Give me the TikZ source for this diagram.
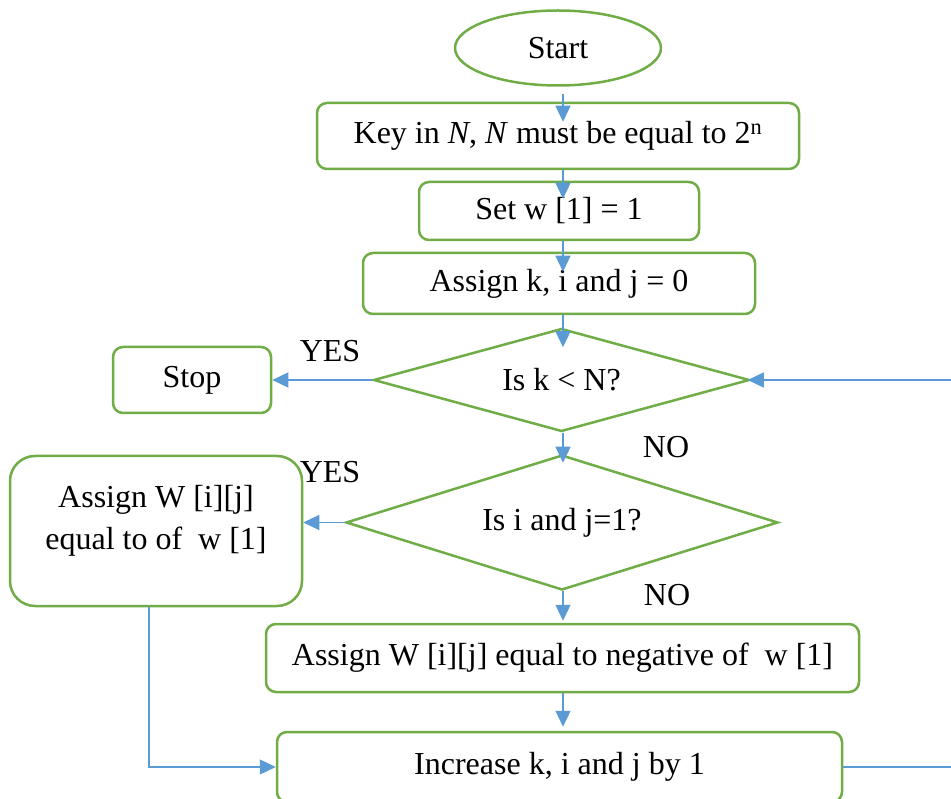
\documentclass[tikz,border=0pt]{standalone}
\usepackage{fontspec}
\setmainfont{Liberation Serif}
\usetikzlibrary{shapes.geometric,arrows.meta,calc}
\definecolor{gr}{HTML}{70AD47}
\definecolor{bl}{HTML}{5B9BD5}
\begin{document}
\begin{tikzpicture}[x=1pt,y=-1pt,
  every node/.style={font=\fontsize{32}{42}\selectfont},
  gbox/.style={draw=gr, line width=2.5pt, rounded corners=10pt, inner sep=0pt, fill=white},
  term/.style={draw=gr, line width=2.5pt, ellipse, inner sep=0pt, fill=white},
  dec/.style={draw=gr, line width=2.5pt, diamond, inner sep=0pt, fill=white},
  conn/.style={draw=bl, line width=1.2pt},
  arr/.style={conn, -{Triangle[length=16pt,width=15pt]}},
  lbl/.style={anchor=base, inner sep=0pt}]
\clip (0,0) rectangle (951,799);
\fill[white] (0,0) rectangle (951,799);
\coordinate (axis) at (563,0);
\coordinate (lx) at (149,0);
\coordinate (edge) at (960,0);

\node[term, minimum width=206pt, minimum height=75pt] (start) at (558,48) {Start};
\node[gbox, minimum width=482pt, minimum height=66pt] (key) at (558,136) {Key in \textit{N}, \textit{N} must be equal to 2\textsuperscript{n}};
\node[gbox, minimum width=280pt, minimum height=58pt] (set) at (559,211) {Set w [1] = 1};
\node[gbox, minimum width=392pt, minimum height=61pt] (asg) at (559,283.5) {Assign k, i and j = 0};
\node[dec, aspect=3.65, minimum width=376pt, minimum height=103pt] (d1) at (561.5,380) {Is k {\textless} N?};
\node[gbox, minimum width=158pt, minimum height=66pt] (stop) at (192,380) {Stop};
\node[dec, aspect=3.2, minimum width=432pt, minimum height=135pt] (d2) at (562,522.5) {Is i and j=1?};
\node[gbox, rounded corners=25pt, minimum width=292pt, minimum height=150pt] (lbox) at (156,531) {};
\node[align=center, inner sep=0pt] (ltext) at (156,521) {Assign W [i][j]\\equal to of\ \ w [1]};
\node[gbox, minimum width=593pt, minimum height=68pt] (neg) at (562.5,658) {Assign W [i][j] equal to negative of\ \ w [1]};
\node[gbox, minimum width=565pt, minimum height=70pt] (inc) at (559.5,767) {Increase k, i and j by 1};

\node[lbl] (yes1) at (330,362) {YES};
\node[lbl] (yes2) at (330,483) {YES};
\node[lbl] (no1) at (666,458) {NO};
\node[lbl] (no2) at (667,605) {NO};

\draw[arr] ($(start.south -| axis)+(0,7)$) -- ($(key.north -| axis)+(0,20)$);
\draw[arr] (key.south -| axis) -- ($(set.north -| axis)+(0,18)$);
\draw[arr] (set.south -| axis) -- ($(asg.north -| axis)+(0,20)$);
\draw[arr] (asg.south -| axis) -- ($(d1.north -| axis)+(0,20)$);
\draw[arr] (d1.south -| axis) -- ($(d2.north -| axis)+(0,9)$);
\draw[arr] (d2.south -| axis) -- ($(neg.north -| axis)+(0,-2)$);
\draw[arr] (neg.south -| axis) -- ($(inc.north -| axis)+(0,-4)$);
\draw[arr] (d1.west) -- (stop.east |- d1.west);
\draw[arr] (d2.west) -- (lbox.east |- d2.west);
\draw[arr] (lbox.south -| lx) |- (inc.west);
\draw[conn] (inc.east) -- (inc.east -| edge);
\draw[arr] (edge |- d1.east) -- ($(d1.east)+(-3,0)$);
\end{tikzpicture}
\end{document}
